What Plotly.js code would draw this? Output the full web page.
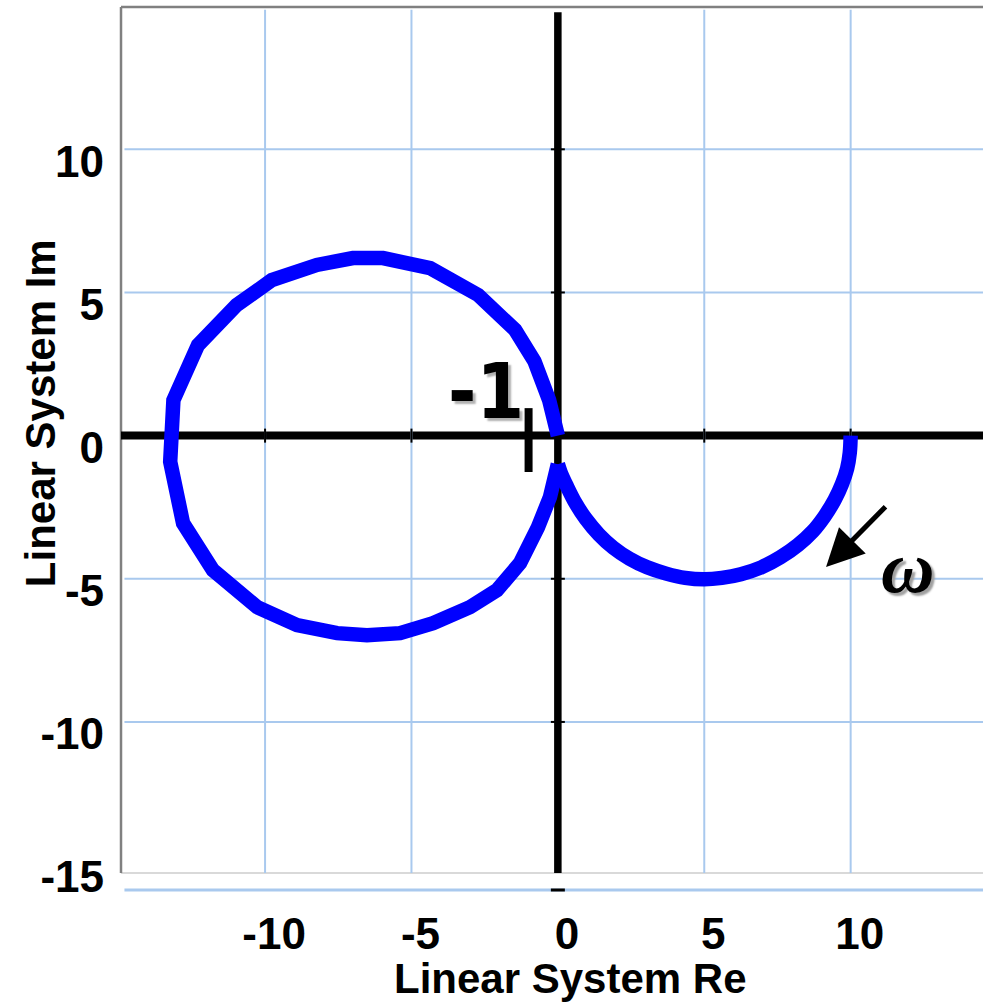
<!DOCTYPE html>
<html>
<head>
<meta charset="utf-8">
<script src="https://cdn.plot.ly/plotly-3.0.1.min.js"></script>
<style>
  html, body { margin: 0; padding: 0; background: #ffffff; }
  #plot { width: 983px; height: 1005px; }
</style>
</head>
<body>
<div id="plot"></div>
<script>
// Nyquist locus of the linear system, in order of increasing frequency.
// Low-frequency arc: from the real axis at 10 down to the cusp near -j.
const reArc = [10.0, 9.97, 9.88, 9.7, 9.45, 9.12, 8.7, 8.2, 7.6, 6.95, 6.25, 5.6, 5.0, 4.35, 3.7, 3.05,
               2.45, 1.9, 1.4, 0.95, 0.6, 0.3, 0.1, 0.0];
const imArc = [0.0, -0.6, -1.15, -1.7, -2.25, -2.8, -3.35, -3.82, -4.25, -4.6, -4.84, -4.97, -5.02, -4.97, -4.82, -4.6,
               -4.3, -3.92, -3.45, -2.9, -2.35, -1.75, -1.3, -1.0];
// High-frequency loop: from the cusp round the left half-plane into the origin.
const reLoop = [0.0, -0.27, -0.68, -1.29, -2.08, -3.0, -4.26, -5.39, -6.52, -7.54, -8.91, -10.27, -11.78,
                -12.8, -13.24, -13.13, -12.29, -10.97, -9.77, -8.23, -7.0, -5.97, -4.36, -2.72,
                -1.46, -0.8, -0.3, 0.0];
const imLoop = [-1.0, -2.15, -3.2, -4.45, -5.4, -5.99, -6.55, -6.9, -6.97, -6.9, -6.62, -5.99, -4.7,
                -3.06, -0.91, 1.24, 3.16, 4.56, 5.43, 5.96, 6.2, 6.2, 5.85, 4.91,
                3.69, 2.6, 1.25, 0.0];

// Axis ticks and grid positions
const xTickVals = [-10, -5, 0, 5, 10];
const xTickText = ['-10', '-5', '0', '5', '10'];
const yTickVals = [-15, -10, -5, 0, 5, 10];
const yTickText = ['-15', '-10', '-5', '0', '5', '10'];
const xGrid = [-10, -5, 5, 10];
const yGrid = [-10, -5, 5, 10];

// Critical point marker and frequency-direction arrow
const criticalRe = -1;
const criticalLabel = '-1';
const omegaArrowTail = [11.24, -2.43];
const omegaArrowTip = [9.16, -4.59];

const X_RANGE = [-14.92, 14.52];
const Y_RANGE = [-15.87, 14.97];
const FRAME_BOTTOM = -15.28;
const AXIS_TOP = 14.79;

const gridColor = '#a9c9ee';
const shapes = [];

// light blue grid
xGrid.forEach(v => shapes.push({type: 'line', layer: 'below', xref: 'x', yref: 'y',
  x0: v, x1: v, y0: FRAME_BOTTOM, y1: Y_RANGE[1] - 0.1, line: {color: gridColor, width: 2}}));
yGrid.forEach(v => shapes.push({type: 'line', layer: 'below', xref: 'paper', yref: 'y',
  x0: 0.004, x1: 1, y0: v, y1: v, line: {color: gridColor, width: 2}}));
// bottom lines of the frame
shapes.push({type: 'line', layer: 'below', xref: 'paper', yref: 'paper',
  x0: 0.004, x1: 1, y0: 0, y1: 0, line: {color: gridColor, width: 3}});
shapes.push({type: 'line', layer: 'below', xref: 'paper', yref: 'y',
  x0: 0, x1: 1, y0: FRAME_BOTTOM, y1: FRAME_BOTTOM, line: {color: '#d9d9d9', width: 2}});
// grey frame, left and top
shapes.push({type: 'line', layer: 'below', xref: 'paper', yref: 'y',
  x0: 0, x1: 0, y0: FRAME_BOTTOM, y1: Y_RANGE[1], line: {color: '#808080', width: 2.5}});
shapes.push({type: 'line', layer: 'below', xref: 'paper', yref: 'paper',
  x0: 0, x1: 1, y0: 1, y1: 1, line: {color: '#808080', width: 2.5}});
// black real and imaginary axes
shapes.push({type: 'line', layer: 'below', xref: 'paper', yref: 'y',
  x0: 0, x1: 1, y0: 0, y1: 0, line: {color: '#000000', width: 8}});
shapes.push({type: 'line', layer: 'below', xref: 'x', yref: 'y',
  x0: 0, x1: 0, y0: FRAME_BOTTOM, y1: AXIS_TOP, line: {color: '#000000', width: 7.5}});
shapes.push({type: 'line', layer: 'below', xref: 'x', yref: 'paper', xsizemode: 'pixel', xanchor: 0,
  x0: -7, x1: 7, y0: 0, y1: 0, line: {color: '#000000', width: 3}});
// small tick marks on the axes
xGrid.forEach(v => shapes.push({type: 'line', layer: 'below', xref: 'x', yref: 'y', ysizemode: 'pixel', yanchor: 0,
  x0: v, x1: v, y0: -7, y1: 7, line: {color: '#000000', width: 2}}));
yGrid.forEach(v => shapes.push({type: 'line', layer: 'below', xref: 'x', yref: 'y', xsizemode: 'pixel', xanchor: 0,
  x0: -7, x1: 7, y0: v, y1: v, line: {color: '#000000', width: 2}}));
// critical point bar at -1
shapes.push({type: 'line', layer: 'above', xref: 'x', yref: 'y',
  x0: criticalRe, x1: criticalRe, y0: -1.27, y1: 0.96, line: {color: '#000000', width: 8}});

const labelFont = {family: 'Liberation Sans, Arial, sans-serif', size: 44, color: '#000000', weight: 'bold'};
const titleFont = {family: 'Liberation Sans, Arial, sans-serif', size: 42, color: '#000000', weight: 'bold'};

const annotations = [
  {text: 'Linear System Re', xref: 'paper', yref: 'paper', x: 0.521, y: -0.0997,
   xanchor: 'center', yanchor: 'middle', showarrow: false, font: titleFont},
  {text: 'Linear System Im', xref: 'paper', yref: 'paper', x: -0.094, y: 0.540, textangle: -90,
   xanchor: 'center', yanchor: 'middle', showarrow: false, font: titleFont},
  {text: criticalLabel, xref: 'x', yref: 'y', x: -2.45, y: 1.55, xanchor: 'center', yanchor: 'middle',
   showarrow: false,
   font: {family: 'DejaVu Sans Condensed, DejaVu Sans, sans-serif', size: 76, color: '#000000', weight: 'bold', shadow: '3px 3px 2px #b0b0b0'}},
  {text: 'ω', xref: 'x', yref: 'y', x: 11.97, y: -4.6, xanchor: 'center', yanchor: 'middle',
   showarrow: false,
   font: {family: 'Liberation Serif, DejaVu Serif, serif', size: 74, color: '#000000', style: 'italic', weight: 'bold', shadow: '3px 3px 2px #a0a0a0'}},
  {text: '', xref: 'x', yref: 'y', axref: 'x', ayref: 'y',
   x: omegaArrowTip[0], y: omegaArrowTip[1], ax: omegaArrowTail[0], ay: omegaArrowTail[1],
   showarrow: true, arrowhead: 2, arrowsize: 1.5, arrowwidth: 5, arrowcolor: '#000000', standoff: 0}
];

const locusLine = {color: '#0000ff', width: 14.5};
const traces = [
  {type: 'scatter', mode: 'lines', x: reArc, y: imArc,
   line: Object.assign({shape: 'spline', smoothing: 1}, locusLine), hoverinfo: 'x+y', showlegend: false},
  {type: 'scatter', mode: 'lines', x: reLoop, y: imLoop,
   line: Object.assign({shape: 'linear'}, locusLine), hoverinfo: 'x+y', showlegend: false}
];

const layout = {
  width: 983, height: 1005,
  margin: {l: 121, r: 0, t: 7, b: 115},
  paper_bgcolor: '#ffffff', plot_bgcolor: 'rgba(0,0,0,0)',
  showlegend: false,
  xaxis: {range: X_RANGE, showgrid: false, zeroline: false, showline: false, ticks: '',
          tickmode: 'array', tickvals: xTickVals, ticktext: xTickText, tickfont: labelFont,
          ticklabelshift: 9, ticklabelstandoff: 14, fixedrange: true},
  yaxis: {range: Y_RANGE, showgrid: false, zeroline: false, showline: false, ticks: '',
          tickmode: 'array', tickvals: yTickVals, ticktext: yTickText, tickfont: labelFont,
          ticklabelshift: 12, ticklabelstandoff: 16, fixedrange: true},
  shapes: shapes,
  annotations: annotations
};

Plotly.newPlot('plot', traces, layout, {displayModeBar: false, staticPlot: true});
</script>
</body>
</html>
